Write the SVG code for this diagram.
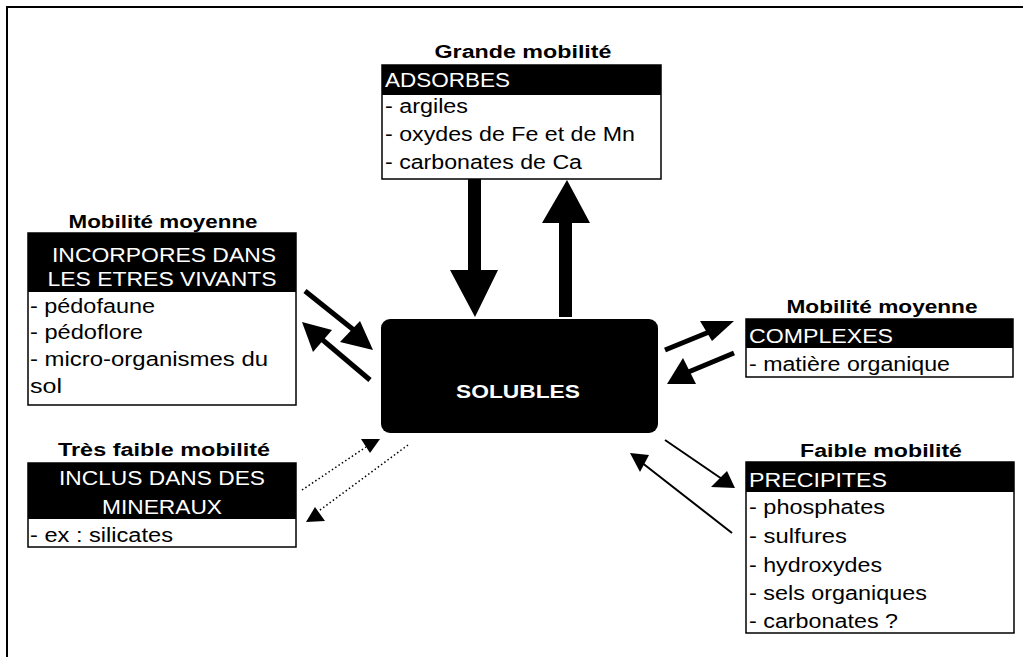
<svg xmlns="http://www.w3.org/2000/svg" width="1023" height="657" viewBox="0 0 1023 657">
<style>
text{font-family:"Liberation Sans",Arial,sans-serif}
.title{font-weight:bold;font-size:18px;fill:#000}
.hdr{font-size:20px;fill:#fff}
.item{font-size:20px;fill:#000}
.box{fill:#fff;stroke:#000;stroke-width:1.5}
.hbar{fill:#000}
.thick{stroke:#000;stroke-width:5;fill:none}
.thin{stroke:#000;stroke-width:2;fill:none}
.dot{stroke:#000;stroke-width:1.5;stroke-dasharray:1.5 2.5;fill:none}
.head{fill:#000}
.sol{font-weight:bold;font-size:19px;fill:#fff}
</style>
<rect width="1023" height="657" fill="#fff"/>
<path d="M7,657 V7 H1023" fill="none" stroke="#000" stroke-width="2"/>

<g id="adsorbes">
<text class="title" x="523" y="58" text-anchor="middle" textLength="177" lengthAdjust="spacingAndGlyphs">Grande mobilité</text>
<rect class="box" x="382" y="65" width="279" height="114"/>
<rect class="hbar" x="382" y="65" width="279" height="30"/>
<text class="hdr" x="385" y="87" textLength="125" lengthAdjust="spacingAndGlyphs">ADSORBES</text>
<text class="item" x="385" y="113" textLength="83" lengthAdjust="spacingAndGlyphs">- argiles</text>
<text class="item" x="385" y="141" textLength="250" lengthAdjust="spacingAndGlyphs">- oxydes de Fe et de Mn</text>
<text class="item" x="385" y="169" textLength="197" lengthAdjust="spacingAndGlyphs">- carbonates de Ca</text>
</g>

<g id="incorpores">
<text class="title" x="163" y="228" text-anchor="middle" textLength="189" lengthAdjust="spacingAndGlyphs">Mobilité moyenne</text>
<rect class="box" x="28" y="233" width="268" height="172"/>
<rect class="hbar" x="28" y="233" width="268" height="59"/>
<text class="hdr" x="164" y="262" text-anchor="middle" textLength="224" lengthAdjust="spacingAndGlyphs">INCORPORES DANS</text>
<text class="hdr" x="162" y="286" text-anchor="middle" textLength="229" lengthAdjust="spacingAndGlyphs">LES ETRES VIVANTS</text>
<text class="item" x="30" y="313" textLength="125" lengthAdjust="spacingAndGlyphs">- pédofaune</text>
<text class="item" x="30" y="339" textLength="113" lengthAdjust="spacingAndGlyphs">- pédoflore</text>
<text class="item" x="30" y="366" textLength="238" lengthAdjust="spacingAndGlyphs">- micro-organismes  du</text>
<text class="item" x="30" y="393" textLength="32" lengthAdjust="spacingAndGlyphs">sol</text>
</g>

<g id="inclus">
<text class="title" x="164" y="456" text-anchor="middle" textLength="212" lengthAdjust="spacingAndGlyphs">Très faible mobilité</text>
<rect class="box" x="28" y="463" width="268" height="84"/>
<rect class="hbar" x="28" y="463" width="268" height="56"/>
<text class="hdr" x="162" y="485" text-anchor="middle" textLength="206" lengthAdjust="spacingAndGlyphs">INCLUS DANS DES</text>
<text class="hdr" x="162" y="514" text-anchor="middle" textLength="120" lengthAdjust="spacingAndGlyphs">MINERAUX</text>
<text class="item" x="30" y="542" textLength="143" lengthAdjust="spacingAndGlyphs">- ex : silicates</text>
</g>

<g id="complexes">
<text class="title" x="882" y="313" text-anchor="middle" textLength="191" lengthAdjust="spacingAndGlyphs">Mobilité moyenne</text>
<rect class="box" x="746" y="319" width="267" height="58"/>
<rect class="hbar" x="746" y="319" width="267" height="29"/>
<text class="hdr" x="749" y="343" textLength="144" lengthAdjust="spacingAndGlyphs">COMPLEXES</text>
<text class="item" x="749" y="371" textLength="201" lengthAdjust="spacingAndGlyphs">- matière organique</text>
</g>

<g id="precipites">
<text class="title" x="881" y="457" text-anchor="middle" textLength="162" lengthAdjust="spacingAndGlyphs">Faible mobilité</text>
<rect class="box" x="746" y="462" width="268" height="171"/>
<rect class="hbar" x="746" y="462" width="268" height="30"/>
<text class="hdr" x="749" y="487" textLength="138" lengthAdjust="spacingAndGlyphs">PRECIPITES</text>
<text class="item" x="749" y="514" textLength="136" lengthAdjust="spacingAndGlyphs">- phosphates</text>
<text class="item" x="749" y="543" textLength="98" lengthAdjust="spacingAndGlyphs">- sulfures</text>
<text class="item" x="749" y="572" textLength="133" lengthAdjust="spacingAndGlyphs">- hydroxydes</text>
<text class="item" x="749" y="600" textLength="178" lengthAdjust="spacingAndGlyphs">- sels organiques</text>
<text class="item" x="749" y="628" textLength="149" lengthAdjust="spacingAndGlyphs">- carbonates ?</text>
</g>

<g id="solubles">
<rect x="381" y="319" width="277" height="114" rx="9" ry="9" fill="#000"/>
<text class="sol" x="518" y="398" text-anchor="middle" textLength="124" lengthAdjust="spacingAndGlyphs">SOLUBLES</text>
</g>

<g id="connectors">
<polygon class="head" points="468,179 481,179 481,270 498,270 475,317 450,270 468,270"/>
<polygon class="head" points="559,317 572,317 572,223 590,223 567,180 542,223 559,223"/>

<line class="thick" x1="305" y1="291" x2="360" y2="335"/>
<polygon class="head" points="360,321 340,342 373,350"/>
<line class="thick" x1="370" y1="380" x2="318" y2="336"/>
<polygon class="head" points="302,322 332,330 313,352"/>

<line class="thick" x1="665" y1="350" x2="714" y2="330"/>
<polygon class="head" points="700,321 734,321 712,341"/>
<line class="thick" x1="734" y1="353" x2="686" y2="373"/>
<polygon class="head" points="667,384 683,358 696,384"/>

<line class="thin" x1="665" y1="440" x2="722" y2="479"/>
<polygon class="head" points="735,488 711,487 727,471"/>
<line class="thin" x1="732" y1="533" x2="641" y2="462"/>
<polygon class="head" points="630,453 649,455 640,472"/>

<line class="dot" x1="302" y1="490" x2="366" y2="447"/>
<polygon class="head" points="361,439 380,439 370,453"/>
<line class="dot" x1="408" y1="445" x2="316" y2="513"/>
<polygon class="head" points="306,522 315,507 325,521"/>
</g>
</svg>
